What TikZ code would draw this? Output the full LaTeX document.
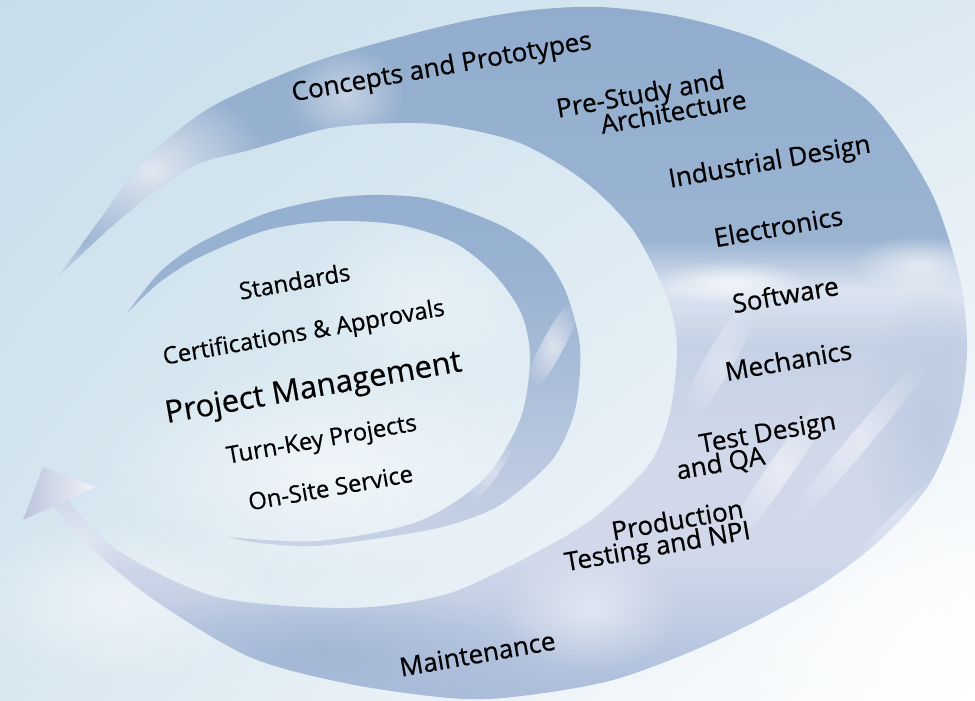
\documentclass[tikz,border=0pt]{standalone}
\usepackage{fontspec}
\setmainfont{Open Sans}
\newfontfamily\lblfont{Open Sans}[FakeBold=0.6]
\usetikzlibrary{fadings,shadings}
\definecolor{bgUL}{HTML}{C6DEEB}
\definecolor{bgUR}{HTML}{DCE9F2}
\definecolor{bgLL}{HTML}{D9E7F0}
\definecolor{bandDark}{HTML}{91ACCD}
\definecolor{bandDark2}{HTML}{9BB4D2}
\definecolor{bandWhite}{HTML}{DCE4F0}
\definecolor{bandMid}{HTML}{C5D1E5}
\definecolor{bandLight}{HTML}{D0D8EA}
\definecolor{bandBottom}{HTML}{AABCDA}
\definecolor{crescTop}{HTML}{93AECF}
\definecolor{crescLow}{HTML}{CBD4E7}
\definecolor{headL}{HTML}{BCC4DC}
\definecolor{headR}{HTML}{F0F3F8}
\tikzfading[name=soft, inner color=transparent!0, outer color=transparent!100]
\begin{document}
\begin{tikzpicture}[x=1pt,y=-1pt,
  lbl/.style={font=\lblfont\fontsize{26}{28}\selectfont, rotate=10, anchor=base, inner sep=0pt, text=black},
  inlbl/.style={lbl, font=\lblfont\fontsize{23.8}{25}\selectfont},
  biglbl/.style={lbl, font=\lblfont\fontsize{31}{33}\selectfont},
  cloud/.style={fill=white, path fading=soft}]
\useasboundingbox (0,0) rectangle (975,701);
% background
\shade[upper left=bgUL, upper right=bgUR, lower left=bgLL, lower right=white] (0,0) rectangle (975,701);
\fill[cloud, fill opacity=0.55] (330,470) ellipse (230 and 110);
\fill[cloud, fill opacity=0.5] (120,600) ellipse (160 and 80);
\fill[cloud, fill opacity=0.35] (420,300) ellipse (120 and 90);
\fill[cloud, fill opacity=0.6] (930,640) ellipse (220 and 160);

% outer spiral band
\begin{scope}
\clip plot[smooth] coordinates {(58,277) (98,222) (145,160) (200,114) (250,88) (320,60) (400,37) (470,20) (533,10) (600,7) (680,17) (767,43) (867,100) (930,190) (960,280) (967,350) (958,415) (930,483) (880,540) (813,590) (713,642) (613,680) (513,697) (450,698) (350,684) (250,657) (150,597) (83,540) (54,506)}
  -- plot[smooth] coordinates {(68,500) (117,550) (217,597) (350,608) (450,593) (550,545) (600,513) (650,463) (670,413) (677,347) (667,297) (633,230) (583,180) (520,143) (450,126) (400,123) (330,128) (250,150) (200,163) (160,187) (110,228) (58,277)} -- cycle;
\shade[top color=bandDark, bottom color=bandDark2] (0,0) rectangle (975,241);
\shade[top color=bandDark2, bottom color=bandWhite] (0,240) rectangle (975,291);
\shade[top color=bandWhite, bottom color=bandMid] (0,290) rectangle (975,346);
\shade[top color=bandMid, bottom color=bandLight] (0,345) rectangle (975,451);
\fill[bandLight] (0,450) rectangle (975,561);
\shade[top color=bandLight, bottom color=bandBottom] (0,560) rectangle (975,702);
\fill[fill=bandBottom!60!bandDark, path fading=soft, fill opacity=0.9] (320,655) ellipse (230 and 70);
\fill[fill=bandMid!70!bandDark, path fading=soft, fill opacity=0.7] (930,430) ellipse (70 and 140);
\fill[cloud, fill opacity=0.7] (150,170) ellipse (120 and 90);
\fill[cloud, fill opacity=0.45] (345,95) ellipse (60 and 50);
\fill[cloud, fill opacity=0.75] (730,282) ellipse (80 and 22);
\fill[cloud, fill opacity=0.6] (920,265) ellipse (70 and 30);
\fill[cloud, fill opacity=0.5, rotate around={55:(780,470)}] (780,470) ellipse (110 and 12);
\fill[cloud, fill opacity=0.45, rotate around={50:(860,440)}] (860,440) ellipse (140 and 10);
\fill[cloud, fill opacity=0.4, rotate around={60:(720,360)}] (720,360) ellipse (80 and 14);
\fill[cloud, fill opacity=0.35, rotate around={45:(900,520)}] (900,520) ellipse (80 and 9);
\fill[cloud, fill opacity=0.5] (590,610) ellipse (90 and 60);
\fill[cloud, fill opacity=0.4] (80,540) ellipse (50 and 40);
\end{scope}

% arrow head
\shade[left color=headL, right color=headR] (43,467) -- (95,487) -- (23,520) -- cycle;

% inner crescent
\begin{scope}
\clip plot[smooth] coordinates {(127,313) (160,272) (200,243) (267,213) (333,198) (383,195) (433,200) (500,225) (540,252) (565,290) (580,347) (575,410) (552,460) (500,505) (450,525) (400,535) (317,546) (260,543) (227,537)}
  -- plot[smooth] coordinates {(227,537) (317,541) (417,522) (483,480) (520,420) (530,360) (522,315) (495,275) (455,243) (400,225) (333,221) (267,230) (200,257) (160,282) (127,313)} -- cycle;
\shade[top color=crescTop, bottom color=crescTop!85!crescLow] (0,190) rectangle (975,291);
\shade[top color=crescTop!85!crescLow, bottom color=crescLow] (0,290) rectangle (975,560);
\fill[cloud, fill opacity=0.6, rotate around={62:(553,345)}] (553,345) ellipse (55 and 11);
\fill[cloud, fill opacity=0.45, rotate around={55:(490,470)}] (490,470) ellipse (45 and 9);
\end{scope}

% labels
\node[lbl] (concepts) at (443,75) {Concepts and Prototypes};
\node[lbl] (pre1) at (642,103) {Pre-Study and};
\node[lbl] (pre2) at (675,121) {Architecture};
\node[lbl] (industrial) at (771,170) {Industrial Design};
\node[lbl] (electronics) at (780,236) {Electronics};
\node[lbl] (software) at (787,304) {Software};
\node[lbl] (mechanics) at (790,370) {Mechanics};
\node[lbl] (test1) at (769,441) {Test Design};
\node[lbl] (test2) at (722,472) {and QA};
\node[lbl] (prod1) at (679,529) {Production};
\node[lbl] (prod2) at (659,555) {Testing and NPI};
\node[lbl] (maint) at (479,663) {Maintenance};

\node[inlbl] (standards) at (296,290) {Standards};
\node[inlbl] (cert) at (305,340) {Certifications \& Approvals};
\node[biglbl] (pm) at (315,397) {Project Management};
\node[inlbl] (turnkey) at (323,447) {Turn-Key Projects};
\node[inlbl] (onsite) at (332,496) {On-Site Service};
\end{tikzpicture}
\end{document}
